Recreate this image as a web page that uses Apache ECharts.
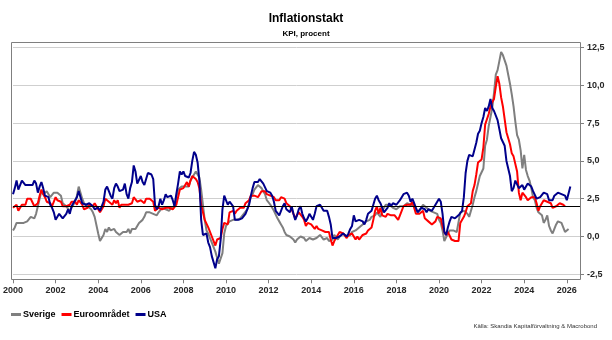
<!DOCTYPE html>
<html>
<head>
<meta charset="utf-8">
<script src="https://cdn.jsdelivr.net/npm/echarts@6/dist/echarts.min.js"></script>
<style>
  html, body { margin: 0; padding: 0; background: #ffffff; }
  #chart { width: 612px; height: 340px; }
</style>
</head>
<body>
<div id="chart"></div>
<script>
// Monthly year-on-year CPI inflation (%), first value = January 2000
const START_YEAR = 2000;

const sverige = [
  0.4, 0.6, 0.9, 0.9, 0.9, 1.0, 0.9, 1.0, 1.0, 1.1, 1.3, 1.3,        // 2000
  1.2, 1.5, 1.5, 2.5, 3.0, 2.8, 2.7, 3.0, 2.9, 2.6, 2.6, 2.9,        // 2001
  2.9, 2.9, 2.8, 2.7, 2.2, 2.1, 2.0, 1.9, 1.7, 1.8, 2.1, 2.3,        // 2002
  2.7, 3.3, 3.3, 2.5, 2.2, 2.1, 2.0, 2.0, 1.8, 1.6, 1.3, 1.3,        // 2003
  0.2, -0.3, -0.3, 0.1, 0.5, 0.3, 0.6, 0.4, 0.5, 0.5, 0.3, 0.3,      // 2004
  0.1, 0.0, 0.3, 0.4, 0.3, 0.5, 0.2, 0.5, 0.4, 0.5, 0.6, 0.9,        // 2005
  0.9, 1.1, 1.3, 1.6, 1.6, 1.6, 1.5, 1.5, 1.5, 1.4, 1.6, 1.6,        // 2006
  1.9, 1.8, 1.8, 1.9, 1.7, 1.9, 1.9, 2.0, 2.6, 3.1, 3.2, 3.3,        // 2007
  3.2, 3.3, 3.3, 3.3, 3.7, 3.9, 4.1, 4.3, 4.4, 3.9, 3.1, 2.1,        // 2008
  1.1, 0.4, 0.2, -0.1, -0.4, -0.7, -1.0, -1.4, -1.8, -1.9, -1.1, 0.2, // 2009
  0.7, 0.8, 1.0, 1.0, 1.1, 1.0, 1.1, 1.2, 1.2, 1.3, 1.5, 1.6,        // 2010
  1.8, 2.2, 2.6, 2.8, 3.1, 3.2, 3.4, 3.3, 3.2, 3.0, 2.8, 2.4,        // 2011
  2.3, 2.1, 1.9, 1.7, 1.6, 1.2, 1.0, 0.8, 0.6, 0.3, 0.1, 0.0,        // 2012
  0.0, 0.0, -0.2, -0.4, -0.2, -0.1, 0.0, -0.1, -0.1, -0.3, -0.4, -0.1, // 2013
  -0.1, -0.2, -0.2, -0.1, 0.0, 0.1, 0.0, -0.2, -0.1, -0.1, -0.3, -0.4, // 2014
  -0.2, 0.1, 0.0, -0.2, 0.0, 0.1, 0.2, 0.3, 0.0, -0.1, 0.1, 0.3,     // 2015
  0.4, 0.4, 0.5, 0.6, 0.6, 0.8, 0.9, 1.0, 1.0, 1.1, 1.3, 1.4,        // 2016
  1.4, 1.6, 1.5, 1.3, 1.7, 1.7, 2.1, 2.0, 2.1, 2.0, 1.9, 1.8,        // 2017
  1.8, 1.9, 2.0, 2.0, 2.0, 2.1, 2.2, 2.3, 2.1, 2.1, 2.0, 1.7,        // 2018
  1.7, 1.7, 1.9, 2.1, 2.2, 1.9, 1.8, 1.7, 1.6, 1.6, 1.7, 1.5,        // 2019
  1.1, 0.9, 0.4, -0.3, -0.3, 0.2, 0.4, 0.4, 0.4, 0.3, 0.3, 0.4,      // 2020
  1.6, 1.6, 1.7, 1.8, 1.5, 1.3, 1.4, 2.1, 2.6, 3.0, 3.5, 4.0,        // 2021
  3.9, 4.5, 6.0, 6.4, 7.3, 7.9, 8.5, 9.5, 10.7, 11.0, 11.6, 12.2,    // 2022
  12.0, 11.9, 11.3, 10.7, 10.1, 9.4, 8.6, 7.6, 6.7, 6.4, 5.7, 4.5,   // 2023
  5.4, 4.4, 4.0, 3.7, 3.2, 2.6, 2.4, 1.9, 1.6, 1.7, 1.4, 0.9,        // 2024
  1.1, 1.4, 0.7, 0.4, 0.2, 0.5, 0.8, 1.0, 0.9, 0.9, 0.6, 0.3,        // 2025
  0.35, 0.5                                                          // 2026
];

const euroomradet = [
  1.9, 2.0, 2.1, 1.7, 1.7, 2.1, 2.0, 2.1, 2.5, 2.4, 2.5, 2.4,        // 2000
  2.0, 1.9, 2.2, 2.7, 3.1, 2.8, 2.6, 2.3, 2.2, 2.2, 2.0, 2.0,        // 2001
  2.6, 2.4, 2.5, 2.3, 2.0, 1.9, 2.0, 2.1, 2.1, 2.3, 2.3, 2.3,        // 2002
  2.1, 2.4, 2.5, 2.1, 1.8, 1.9, 1.9, 2.1, 2.2, 2.0, 2.2, 2.0,        // 2003
  1.9, 1.6, 1.7, 2.0, 2.5, 2.4, 2.3, 2.3, 2.1, 2.4, 2.2, 2.4,        // 2004
  1.9, 2.1, 2.1, 2.1, 2.0, 2.1, 2.2, 2.2, 2.6, 2.5, 2.3, 2.2,        // 2005
  2.4, 2.3, 2.2, 2.5, 2.5, 2.5, 2.4, 2.3, 1.7, 1.6, 1.9, 1.9,        // 2006
  1.8, 1.8, 1.9, 1.9, 1.9, 1.9, 1.8, 1.7, 2.1, 2.6, 3.1, 3.1,        // 2007
  3.2, 3.3, 3.6, 3.3, 3.7, 4.0, 4.0, 3.8, 3.6, 3.2, 2.1, 1.6,        // 2008
  1.1, 1.2, 0.6, 0.6, 0.0, -0.1, -0.6, -0.2, -0.3, -0.1, 0.5, 0.9,   // 2009
  1.0, 0.8, 1.6, 1.6, 1.7, 1.5, 1.7, 1.6, 1.9, 1.9, 1.9, 2.2,        // 2010
  2.3, 2.4, 2.7, 2.8, 2.7, 2.7, 2.6, 2.6, 3.0, 3.0, 3.0, 2.8,        // 2011
  2.7, 2.7, 2.7, 2.6, 2.4, 2.4, 2.4, 2.6, 2.6, 2.5, 2.2, 2.2,        // 2012
  2.0, 1.8, 1.7, 1.2, 1.4, 1.6, 1.6, 1.3, 1.1, 0.7, 0.9, 0.8,        // 2013
  0.8, 0.7, 0.5, 0.7, 0.5, 0.5, 0.4, 0.4, 0.3, 0.4, 0.3, -0.2,       // 2014
  -0.6, -0.3, -0.1, 0.0, 0.3, 0.2, 0.2, 0.1, -0.1, 0.1, 0.1, 0.2,    // 2015
  0.3, -0.2, 0.0, -0.2, -0.1, 0.1, 0.2, 0.2, 0.4, 0.5, 0.6, 1.1,     // 2016
  1.7, 2.0, 1.5, 1.9, 1.4, 1.3, 1.3, 1.5, 1.5, 1.4, 1.5, 1.4,        // 2017
  1.3, 1.1, 1.4, 1.3, 2.0, 2.0, 2.1, 2.1, 2.1, 2.3, 1.9, 1.5,        // 2018
  1.4, 1.5, 1.4, 1.7, 1.2, 1.3, 1.0, 1.0, 0.8, 0.7, 1.0, 1.3,        // 2019
  1.4, 1.2, 0.7, 0.3, 0.1, 0.3, 0.4, -0.2, -0.3, -0.3, -0.3, -0.3,   // 2020
  0.9, 0.9, 1.3, 1.6, 2.0, 1.9, 2.2, 3.0, 3.4, 4.1, 4.9, 5.0,        // 2021
  5.1, 5.9, 7.4, 7.4, 8.1, 8.6, 8.9, 9.1, 9.9, 10.6, 10.1, 9.2,      // 2022
  8.6, 8.5, 6.9, 7.0, 6.1, 5.5, 5.3, 5.2, 4.3, 2.9, 2.4, 2.9,        // 2023
  2.8, 2.6, 2.4, 2.4, 2.6, 2.5, 2.6, 2.2, 1.7, 2.0, 2.2, 2.4,        // 2024
  2.5, 2.3, 2.2, 2.2, 1.9, 2.0, 2.0, 2.0, 2.2, 2.1, 2.1, 2.0         // 2025
];

const usa = [
  2.8, 3.2, 3.7, 3.1, 3.2, 3.7, 3.6, 3.4, 3.5, 3.4, 3.4, 3.4,        // 2000
  3.7, 3.5, 2.9, 3.3, 3.6, 3.2, 2.7, 2.7, 2.6, 2.1, 1.9, 1.6,        // 2001
  1.1, 1.1, 1.5, 1.6, 1.2, 1.1, 1.5, 1.8, 1.5, 2.0, 2.2, 2.4,        // 2002
  2.6, 3.0, 3.0, 2.2, 2.1, 2.1, 2.1, 2.2, 2.3, 2.0, 1.8, 1.9,        // 2003
  1.9, 1.7, 1.7, 2.3, 3.1, 3.3, 3.0, 2.7, 2.5, 3.2, 3.5, 3.3,        // 2004
  3.0, 3.0, 3.1, 3.5, 2.8, 2.5, 3.2, 3.6, 4.7, 4.3, 3.5, 3.4,        // 2005
  4.0, 3.6, 3.4, 3.5, 4.2, 4.3, 4.1, 3.8, 2.1, 1.8, 2.0, 2.5,        // 2006
  2.1, 2.4, 2.8, 2.6, 2.7, 2.7, 2.4, 2.0, 2.8, 3.5, 4.3, 4.1,        // 2007
  4.3, 4.0, 4.0, 3.9, 4.2, 5.0, 5.6, 5.4, 4.9, 3.7, 1.1, 0.1,        // 2008
  0.0, 0.2, -0.4, -0.7, -1.3, -1.4, -2.1, -1.5, -1.3, -0.2, 1.8, 2.7, // 2009
  2.6, 2.1, 2.3, 2.2, 2.0, 1.1, 1.2, 1.1, 1.1, 1.2, 1.1, 1.5,        // 2010
  1.6, 2.1, 2.7, 3.2, 3.6, 3.6, 3.6, 3.8, 3.9, 3.5, 3.4, 3.0,        // 2011
  2.9, 2.9, 2.7, 2.3, 1.7, 1.7, 1.4, 1.7, 2.0, 2.2, 1.8, 1.7,        // 2012
  1.6, 2.0, 1.5, 1.1, 1.4, 1.8, 2.0, 1.5, 1.2, 1.0, 1.2, 1.5,        // 2013
  1.6, 1.1, 1.5, 2.0, 2.1, 2.1, 2.0, 1.7, 1.7, 1.7, 1.3, 0.8,        // 2014
  -0.1, 0.0, -0.1, -0.2, 0.0, 0.1, 0.2, 0.2, 0.0, 0.2, 0.5, 0.7,     // 2015
  1.4, 1.0, 0.9, 1.1, 1.0, 1.0, 0.8, 1.1, 1.5, 1.6, 1.7, 2.1,        // 2016
  2.5, 2.7, 2.4, 2.2, 1.9, 1.6, 1.7, 1.9, 2.2, 2.0, 2.2, 2.1,        // 2017
  2.1, 2.2, 2.4, 2.5, 2.8, 2.9, 2.9, 2.7, 2.3, 2.5, 2.2, 1.9,        // 2018
  1.6, 1.5, 1.9, 2.0, 1.8, 1.6, 1.8, 1.7, 1.7, 1.8, 2.1, 2.3,        // 2019
  2.5, 2.3, 1.5, 0.3, 0.1, 0.6, 1.0, 1.3, 1.4, 1.2, 1.2, 1.4,        // 2020
  1.4, 1.7, 2.6, 4.2, 5.0, 5.4, 5.4, 5.3, 5.4, 6.2, 6.8, 7.0,        // 2021
  7.5, 7.9, 8.5, 8.3, 8.6, 9.1, 8.5, 8.3, 8.2, 7.7, 7.1, 6.5,        // 2022
  6.4, 6.0, 5.0, 4.9, 4.0, 3.0, 3.2, 3.7, 3.7, 3.2, 3.1, 3.4,        // 2023
  3.1, 3.2, 3.5, 3.4, 3.3, 3.0, 2.9, 2.5, 2.4, 2.6, 2.7, 2.9,        // 2024
  3.0, 2.8, 2.4, 2.3, 2.4, 2.7, 2.7, 2.9, 3.0, 2.8, 2.7, 2.7,        // 2025
  2.4, 2.4, 3.3                                                      // 2026
];

// Axis labelling
const yearTicks = [2000, 2002, 2004, 2006, 2008, 2010, 2012, 2014, 2016, 2018, 2020, 2022, 2024, 2026];
const Y_MIN = -2.5, Y_MAX = 12.5, Y_STEP = 2.5;
const X_MIN = 2000, X_MAX = 2026.62;
const TARGET = 2; // inflation target line

const seriesNames = ['Sverige', 'Euroområdet', 'USA'];
const seriesColors = ['#7f7f7f', '#ff0000', '#00008b'];

function toPoints(values) {
  return values.map((v, i) => [START_YEAR + i / 12, v]);
}

const FONT = '"Liberation Sans", Arial, sans-serif';
const GRID = { left: 12, right: 32, top: 47.5, bottom: 65.7 };

const chart = echarts.init(document.getElementById('chart'), null, { renderer: 'canvas' });

chart.setOption({
  animation: false,
  backgroundColor: '#ffffff',
  textStyle: { fontFamily: FONT },
  title: {
    text: 'Inflationstakt',
    subtext: 'KPI, procent',
    left: 'center',
    top: 7,
    itemGap: 3,
    textStyle: { fontFamily: FONT, fontSize: 12, fontWeight: 'bold', color: '#000000', lineHeight: 14 },
    subtextStyle: { fontFamily: FONT, fontSize: 8, fontWeight: 'bold', color: '#000000', lineHeight: 10 }
  },
  legend: {
    data: seriesNames,
    left: 6,
    top: 305,
    icon: 'rect',
    itemWidth: 10,
    itemHeight: 3,
    itemGap: 6,
    textStyle: { fontFamily: FONT, fontSize: 9, fontWeight: 'bold', color: '#000000', padding: [0, 0, 0, -3] }
  },
  grid: GRID,
  xAxis: {
    type: 'value',
    min: X_MIN,
    max: X_MAX,
    interval: 2,
    offset: 5,
    axisLine: { show: false, onZero: false },
    axisTick: { show: true, length: 4, customValues: yearTicks, lineStyle: { color: '#7f7f7f' } },
    axisLabel: {
      customValues: yearTicks,
      margin: 7,
      fontFamily: FONT, fontSize: 9, fontWeight: 'bold', color: '#262626',
      formatter: v => String(Math.round(v))
    },
    splitLine: { show: false }
  },
  yAxis: {
    type: 'value',
    position: 'right',
    min: Y_MIN,
    max: Y_MAX,
    interval: Y_STEP,
    axisLine: { show: false },
    axisTick: { show: true, length: 4, lineStyle: { color: '#7f7f7f' } },
    axisLabel: {
      margin: 7,
      fontFamily: FONT, fontSize: 9, fontWeight: 'bold', color: '#262626',
      formatter: v => v.toFixed(1).replace('.', ',')
    },
    splitLine: { show: true, lineStyle: { color: '#cfcfcf', width: 1 } }
  },
  series: [
    {
      name: seriesNames[0], type: 'line', data: toPoints(sverige),
      showSymbol: false, color: seriesColors[0],
      lineStyle: { width: 2, color: seriesColors[0] }, z: 2,
      markLine: {
        silent: true, symbol: 'none', label: { show: false },
        lineStyle: { color: '#000000', width: 1, type: 'solid' },
        data: [{ yAxis: TARGET }]
      }
    },
    {
      name: seriesNames[1], type: 'line', data: toPoints(euroomradet),
      showSymbol: false, color: seriesColors[1],
      lineStyle: { width: 2, color: seriesColors[1] }, z: 3
    },
    {
      name: seriesNames[2], type: 'line', data: toPoints(usa),
      showSymbol: false, color: seriesColors[2],
      lineStyle: { width: 2, color: seriesColors[2] }, z: 4
    }
  ],
  graphic: [
    {
      type: 'rect', silent: true, z: 10,
      shape: { x: 11.5, y: 42.5, width: 569, height: 237 },
      style: { fill: 'none', stroke: '#7f7f7f', lineWidth: 1 }
    },
    {
      type: 'text', right: 15, top: 323, silent: true,
      style: { text: 'Källa: Skandia Kapitalförvaltning & Macrobond', fontFamily: FONT, fontSize: 6, fill: '#333333' }
    }
  ]
});
</script>
</body>
</html>
